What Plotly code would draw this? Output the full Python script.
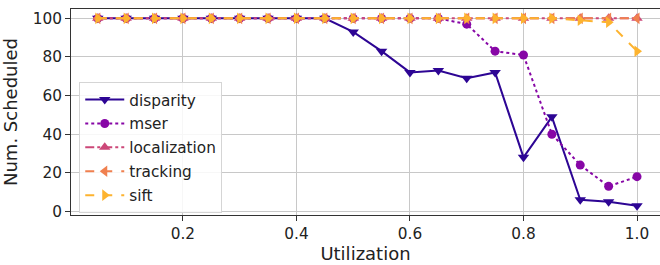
import plotly.graph_objects as go

utilization = [0.05, 0.10, 0.15, 0.20, 0.25, 0.30, 0.35, 0.40, 0.45, 0.50,
               0.55, 0.60, 0.65, 0.70, 0.75, 0.80, 0.85, 0.90, 0.95, 1.00]
disparity = [100, 100, 100, 100, 100, 100, 100, 100, 100, 93,
             83, 72, 73, 69, 72, 28, 49, 6, 5, 3]
mser = [100, 100, 100, 100, 100, 100, 100, 100, 100, 100,
        100, 100, 100, 97, 83, 81, 40, 24, 13, 18]
localization = [100] * 20
tracking = [100] * 20
sift = [100, 100, 100, 100, 100, 100, 100, 100, 100, 100,
        100, 100, 100, 100, 100, 100, 100, 99, 98, 83]

series = [
    ("disparity", disparity, "#2d0594", "solid", "triangle-down", 10),
    ("mser", mser, "#8707a6", "dot", "circle", 9),
    ("localization", localization, "#cc4778", "dashdot", "triangle-up", 10),
    ("tracking", tracking, "#f0804f", "dash", "triangle-left", 10),
    ("sift", sift, "#fdb32f", "dash", "triangle-right", 10),
]

fig = go.Figure()
for name, vals, color, dash, sym, size in series:
    fig.add_trace(go.Scatter(
        x=utilization, y=vals, name=name, mode="lines+markers",
        line=dict(color=color, width=2, dash=dash),
        marker=dict(symbol=sym, size=size, color=color, line=dict(width=0)),
        legendgroup=name,
    ))

FS = 15.3
font = dict(family="DejaVu Sans", size=FS, color="#222222")
fig.update_layout(
    width=660, height=265,
    margin=dict(l=71, r=0, t=9, b=50, autoexpand=False),
    paper_bgcolor="white", plot_bgcolor="white",
    font=font,
    showlegend=True,
    legend=dict(
        x=0.014, y=0.645, xanchor="left", yanchor="top",
        bgcolor="rgba(255,255,255,0.85)", bordercolor="#d5d5d5", borderwidth=1,
        font=dict(family="DejaVu Sans", size=FS, color="#222222"),
        tracegroupgap=1, traceorder="grouped", itemwidth=39,
        entrywidth=96, entrywidthmode="pixels",
    ),
    xaxis=dict(
        range=[0.0028, 1.0405], tickvals=[0.2, 0.4, 0.6, 0.8, 1.0], tickformat=".1f",
        showgrid=True, gridcolor="#c8c8c8", gridwidth=1,
        showline=True, linecolor="#333333", linewidth=1, mirror=True,
        ticks="outside", ticklen=5, tickcolor="#333333",
        title=dict(text="Utilization", standoff=4),
        zeroline=False,
    ),
    yaxis=dict(
        range=[-1.85, 104.85], tickvals=[0, 20, 40, 60, 80, 100],
        showgrid=True, gridcolor="#c8c8c8", gridwidth=1,
        showline=True, linecolor="#333333", linewidth=1,
        ticks="outside", ticklen=5, tickcolor="#333333",
        title=dict(text="Num. Scheduled", standoff=10),
        zeroline=False,
    ),
)
fig.write_html("out.html", config={"displayModeBar": False},
               post_script="document.body.style.margin='0';")
